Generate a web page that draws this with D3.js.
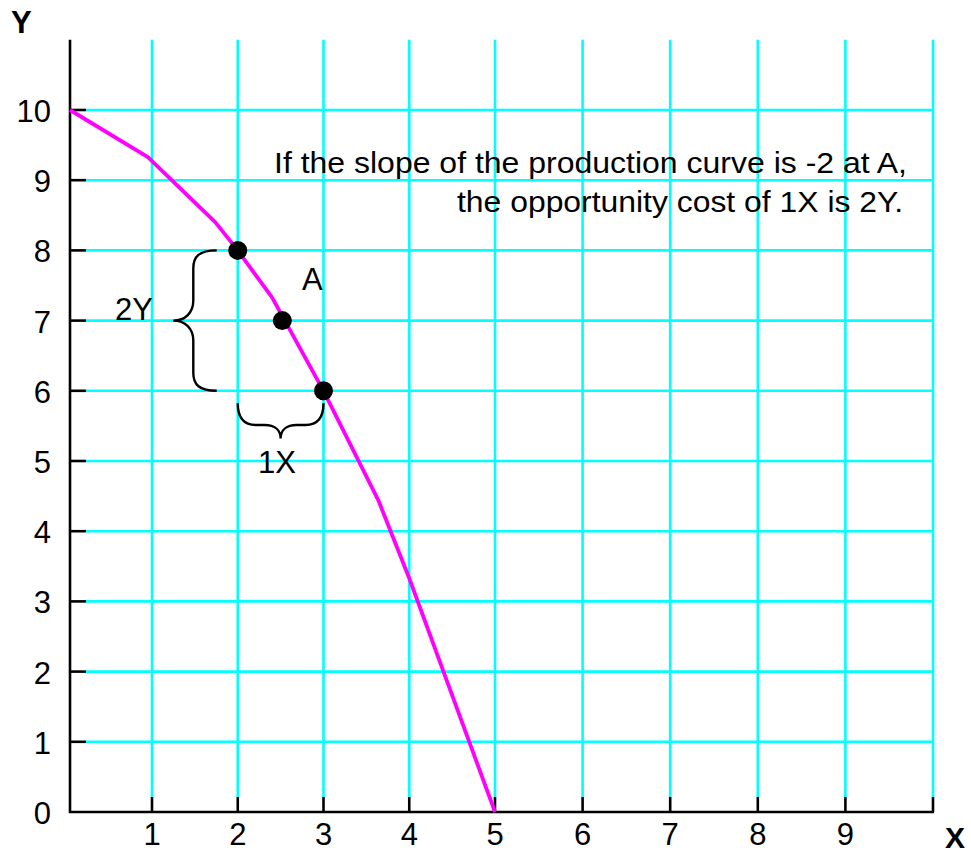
<!DOCTYPE html>
<html>
<head>
<meta charset="utf-8">
<script src="https://cdn.jsdelivr.net/npm/d3@7"></script>
<style>
  html, body { margin: 0; padding: 0; background: #fff; }
  svg { display: block; }
  text { font-family: "Liberation Sans", Arial, Helvetica, sans-serif; fill: #000; }
</style>
</head>
<body>
<svg id="chart" width="971" height="855"></svg>
<script>
// ---- data ----
const xTicks = [1, 2, 3, 4, 5, 6, 7, 8, 9, 10];
const xTickLabels = ["1", "2", "3", "4", "5", "6", "7", "8", "9", ""];
const yTicks = [1, 2, 3, 4, 5, 6, 7, 8, 9, 10];
const yTickLabels = ["0", "1", "2", "3", "4", "5", "6", "7", "8", "9", "10"];
const curveX = [0, 0.95, 1.74, 2, 2.4, 3, 3.64, 4, 5];
const curveY = [10, 9.33, 8.4, 8, 7.33, 6, 4.44, 3.33, 0];
const pointX = [2, 2.52, 3];
const pointY = [8, 7, 6];
const noteLines = ["If the slope of the production curve is -2 at A,", "the opportunity cost of 1X is 2Y."];
const axisNames = ["X", "Y"];
const braceY = [8, 6];     // vertical brace span (Y)
const braceX = [2, 3];     // horizontal brace span (X)

// ---- scales ----
const x = d3.scaleLinear().domain([0, 1, 5, 10]).range([70, 152, 495, 933]);
const y = d3.scaleLinear().domain([0, 10]).range([812, 110]);
const yTop = y(11);

const svg = d3.select("#chart");
const CYAN = "#00FFFF", MAG = "#FF00FF";

// grid: horizontal
svg.append("g").selectAll("line").data(yTicks).join("line")
  .attr("x1", x(0) + 16).attr("x2", x(10))
  .attr("y1", d => y(d)).attr("y2", d => y(d))
  .attr("stroke", CYAN).attr("stroke-width", 2.6);
// grid: vertical
svg.append("g").selectAll("line").data(xTicks).join("line")
  .attr("x1", d => x(d)).attr("x2", d => x(d))
  .attr("y1", yTop).attr("y2", y(0) - 15)
  .attr("stroke", CYAN).attr("stroke-width", 2.6);

// axis lines
svg.append("line").attr("x1", x(0)).attr("x2", x(0)).attr("y1", yTop).attr("y2", y(0) + 1)
  .attr("stroke", "#000").attr("stroke-width", 2.6);
svg.append("line").attr("x1", x(0) - 1).attr("x2", x(10) + 1).attr("y1", y(0)).attr("y2", y(0))
  .attr("stroke", "#000").attr("stroke-width", 2.6);
// ticks
svg.append("g").selectAll("line").data(yTicks).join("line")
  .attr("x1", x(0)).attr("x2", x(0) + 16)
  .attr("y1", d => y(d)).attr("y2", d => y(d))
  .attr("stroke", "#000").attr("stroke-width", 2.6);
svg.append("g").selectAll("line").data(xTicks).join("line")
  .attr("x1", d => x(d)).attr("x2", d => x(d))
  .attr("y1", y(0)).attr("y2", y(0) - 15)
  .attr("stroke", "#000").attr("stroke-width", 2.6);

// tick labels
svg.append("g").selectAll("text").data(yTickLabels).join("text")
  .attr("x", 51).attr("y", (d, i) => y(i) + 12)
  .attr("text-anchor", "end").attr("font-size", 31).text(d => d);
svg.append("g").selectAll("text").data(xTickLabels).join("text")
  .attr("x", (d, i) => x(xTicks[i])).attr("y", y(0) + 33)
  .attr("text-anchor", "middle").attr("font-size", 31).text(d => d);

// axis names
svg.append("text").attr("x", 945).attr("y", 848).attr("font-size", 30).attr("font-weight", "bold").text(axisNames[0]);
svg.append("text").attr("x", 11).attr("y", 33).attr("font-size", 31).attr("font-weight", "bold").text(axisNames[1]);

// curve
const line = d3.line().x(d => x(d[0])).y(d => y(d[1]));
svg.append("path").datum(curveX.map((v, i) => [v, curveY[i]]))
  .attr("d", line).attr("fill", "none").attr("stroke", MAG)
  .attr("stroke-width", 3.8).attr("stroke-linejoin", "round");

// points
svg.append("g").selectAll("circle").data(pointX).join("circle")
  .attr("cx", d => x(d)).attr("cy", (d, i) => y(pointY[i])).attr("r", 9.5).attr("fill", "#000");

// vertical brace (2Y)
{
  const y1 = y(braceY[0]), y2 = y(braceY[1]), ym = (y1 + y2) / 2;
  const xe = 216.7, xs = 193.3, xt = 173.3;
  const p = `M${xe},${y1} C${xs + 6},${y1} ${xs},${y1 + 6} ${xs},${y1 + 18} L${xs},${ym - 20}
    C${xs},${ym - 8} ${xs - 8},${ym} ${xt},${ym} C${xs - 8},${ym} ${xs},${ym + 8} ${xs},${ym + 20}
    L${xs},${y2 - 18} C${xs},${y2 - 6} ${xs + 6},${y2} ${xe},${y2}`;
  svg.append("path").attr("d", p).attr("fill", "none").attr("stroke", "#000").attr("stroke-width", 2.4);
}
// horizontal brace (1X)
{
  const x1 = x(braceX[0]), x2 = x(braceX[1]), xm = (x1 + x2) / 2;
  const ye = 403.3, ys = 425, yt = 438.5;
  const p = `M${x1},${ye} C${x1},${ye + 16} ${x1 + 7},${ys} ${x1 + 18},${ys} L${xm - 16},${ys}
    C${xm - 6},${ys} ${xm},${ys + 5} ${xm},${yt} C${xm},${ys + 5} ${xm + 6},${ys} ${xm + 16},${ys}
    L${x2 - 18},${ys} C${x2 - 7},${ys} ${x2},${ye + 16} ${x2},${ye}`;
  svg.append("path").attr("d", p).attr("fill", "none").attr("stroke", "#000").attr("stroke-width", 2.4);
}

// annotations
svg.append("text").attr("x", 115).attr("y", 320).attr("font-size", 31).text("2Y");
svg.append("text").attr("x", 302).attr("y", 290).attr("font-size", 31).text("A");
svg.append("text").attr("x", 277).attr("y", 473).attr("font-size", 31).attr("text-anchor", "middle").text("1X");

svg.append("text").attr("x", 274).attr("y", 172.5).attr("font-size", 29)
  .attr("textLength", 633).attr("lengthAdjust", "spacingAndGlyphs").text(noteLines[0]);
svg.append("text").attr("x", 457).attr("y", 212).attr("font-size", 29)
  .attr("textLength", 446).attr("lengthAdjust", "spacingAndGlyphs").text(noteLines[1]);
</script>
</body>
</html>
